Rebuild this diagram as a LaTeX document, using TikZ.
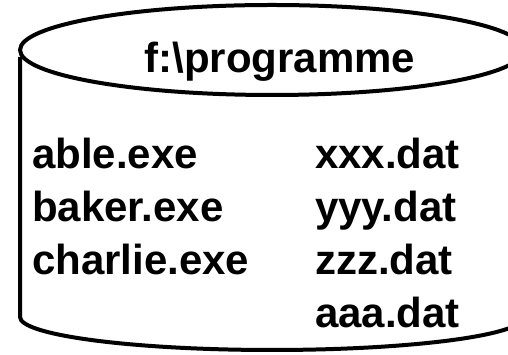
\documentclass[tikz,border=0pt]{standalone}
\usepackage{fontspec}
\setmainfont{Liberation Sans}
\usetikzlibrary{positioning}

\begin{document}
\begin{tikzpicture}[x=1pt, y=1pt, line width=4pt, node distance=10pt,
    every node/.style={font=\bfseries\fontsize{42}{49}\selectfont, inner sep=0pt,
      text height=30pt, text depth=9pt}]
  \useasboundingbox (0,0) rectangle (508,355);
  % drum, cut off at the right edge
  \begin{scope}
    \clip (0,0) rectangle (508,355);
    \draw (272,305) ellipse [x radius=252, y radius=45];
    \draw (20,298) -- (20,38) arc [start angle=180, end angle=360, x radius=252, y radius=33];
  \end{scope}
  \node[anchor=base] (dir) at (280,282) {f:\textbackslash programme};
  % left column
  \node[anchor=base west] (able) at (30,186) {able.exe};
  \node[below=of able.south west, anchor=north west] (baker) {baker.exe};
  \node[below=of baker.south west, anchor=north west] (charlie) {charlie.exe};
  % right column
  \node[anchor=base west] (xxx) at (313,186) {xxx.dat};
  \node[below=of xxx.south west, anchor=north west] (yyy) {yyy.dat};
  \node[below=of yyy.south west, anchor=north west] (zzz) {zzz.dat};
  \node[below=of zzz.south west, anchor=north west] (aaa) {aaa.dat};
\end{tikzpicture}
\end{document}
